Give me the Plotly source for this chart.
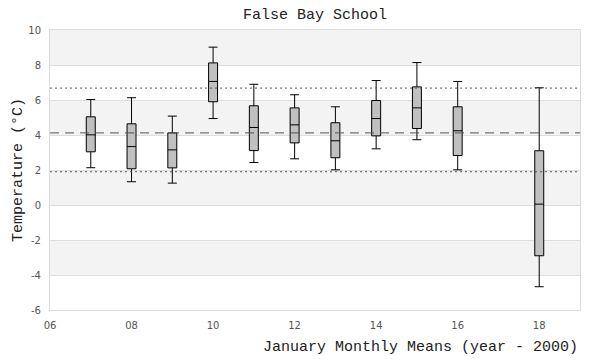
import plotly.graph_objects as go

years = [7, 8, 9, 10, 11, 12, 13, 14, 15, 16, 18]
upper = [6.03, 6.13, 5.08, 9.02, 6.90, 6.30, 5.61, 7.11, 8.14, 7.06, 6.70]
q3 = [5.04, 4.64, 4.12, 8.12, 5.67, 5.55, 4.70, 5.97, 6.75, 5.61, 3.10]
median = [4.01, 3.34, 3.15, 7.06, 4.43, 4.58, 3.67, 4.94, 5.55, 4.24, 0.05]
q1 = [3.04, 2.07, 2.12, 5.90, 3.11, 3.55, 2.70, 3.95, 4.37, 2.83, -2.90]
lower = [2.13, 1.33, 1.25, 4.94, 2.43, 2.64, 2.01, 3.21, 3.73, 2.01, -4.67]

mean_line = 4.12
sd_upper = 6.68
sd_lower = 1.90

tick_vals = [6, 8, 10, 12, 14, 16, 18]
tick_text = ["06", "08", "10", "12", "14", "16", "18"]
y_ticks = [-6, -4, -2, 0, 2, 4, 6, 8, 10]
y_text = [str(v) for v in y_ticks]

fig = go.Figure()
fig.add_trace(go.Box(
    x=years, q1=q1, median=median, q3=q3,
    lowerfence=lower, upperfence=upper,
    boxpoints=False, width=0.22, whiskerwidth=1,
    fillcolor="#c0c0c0", line=dict(color="#000000", width=1),
    showlegend=False, hoverinfo="skip"
))

shapes = []
for i in range(len(y_ticks) - 1):
    if (len(y_ticks) - 2 - i) % 2 == 0:
        shapes.append(dict(type="rect", xref="paper", yref="y", x0=0, x1=1,
                           y0=y_ticks[i], y1=y_ticks[i + 1],
                           fillcolor="#f3f3f3", line=dict(width=0), layer="below"))
for yv, dash, col in [(sd_upper, "2px,3px", "#555555"), (mean_line, "9px,6px", "#555555"),
                      (sd_lower, "2px,3px", "#555555")]:
    shapes.append(dict(type="line", xref="paper", yref="y", x0=0, x1=1, y0=yv, y1=yv,
                       line=dict(color=col, width=1, dash=dash), layer="above"))

mono = "Liberation Mono, DejaVu Sans Mono, monospace"
tfont = dict(family="DejaVu Sans, sans-serif", size=10, color="#555555")
annotations = [
    dict(text="False Bay School", xref="paper", yref="paper", x=0.5, y=1, yshift=15,
         xanchor="center", yanchor="middle", showarrow=False,
         font=dict(family=mono, size=15, color="#222222")),
    dict(text="January Monthly Means (year - 2000)", xref="paper", yref="paper", x=1, y=0,
         xshift=0, yshift=-37, xanchor="right", yanchor="middle", showarrow=False,
         font=dict(family=mono, size=15, color="#222222")),
    dict(text="Temperature (°C)", xref="paper", yref="paper", x=0, y=0.5, xshift=-32,
         xanchor="center", yanchor="middle", textangle=-90, showarrow=False,
         font=dict(family=mono, size=15, color="#222222")),
]

# page body has an 8px margin; size the figure so the plot area lands at x 50..580, y 30..310
fig.update_layout(
    width=592, height=352,
    margin=dict(l=42, r=20, t=22, b=50, autoexpand=False),
    paper_bgcolor="white", plot_bgcolor="white",
    shapes=shapes, annotations=annotations,
    xaxis=dict(range=[6, 19], tickvals=tick_vals, ticktext=tick_text, automargin=False,
               showgrid=False, zeroline=False, showline=True, linecolor="#dddddd", mirror=True,
               ticks="outside", ticklen=6, tickcolor="rgba(0,0,0,0)", tickfont=tfont),
    yaxis=dict(range=[-6, 10], tickvals=y_ticks, ticktext=y_text, automargin=False,
               showgrid=True, gridcolor="#dddddd", gridwidth=1,
               zeroline=False, showline=True, linecolor="#dddddd", mirror=True,
               ticks="outside", ticklen=6, tickcolor="rgba(0,0,0,0)", tickfont=tfont),
)
fig.write_html("out.html")
